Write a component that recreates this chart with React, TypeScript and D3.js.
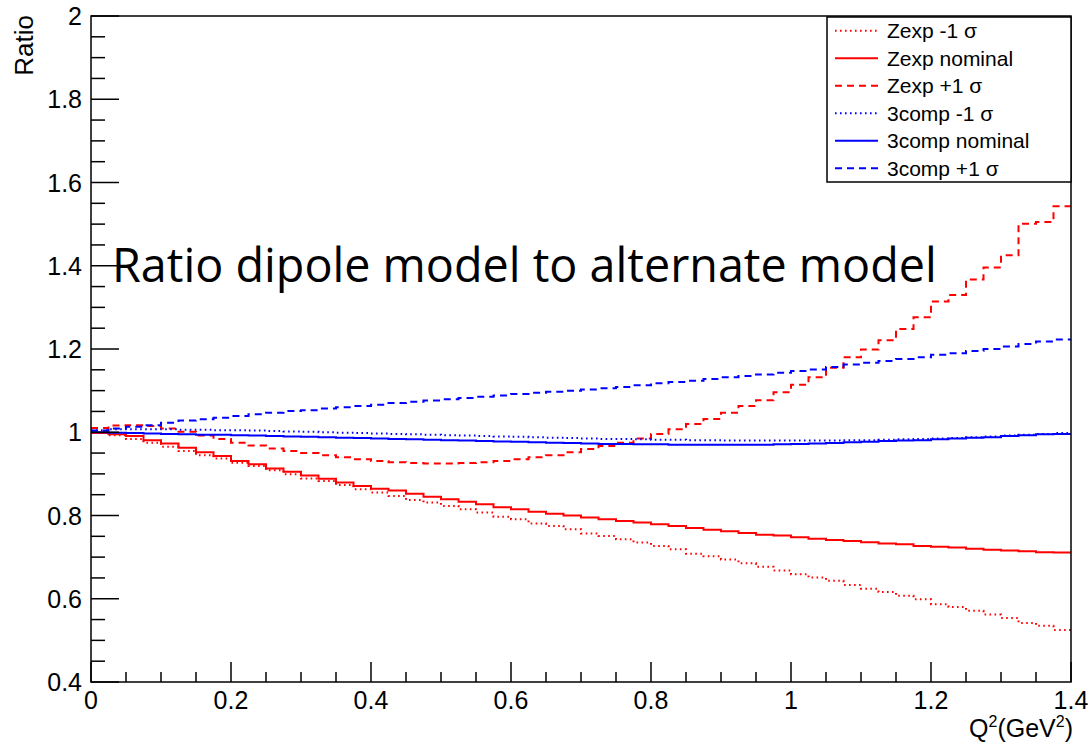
import React, { useLayoutEffect, useRef, useState } from 'react';
import * as d3 from 'd3';

// Ratio histograms: 56 bins of width 0.025 GeV^2 from 0 to 1.4
const BIN_WIDTH = 0.025;

const zexpMinus = [
  0.998, 0.993, 0.984, 0.975, 0.965, 0.955, 0.945, 0.937, 0.927, 0.919,
  0.909, 0.899, 0.889, 0.883, 0.873, 0.863, 0.855, 0.847, 0.837, 0.831,
  0.823, 0.815, 0.807, 0.797, 0.791, 0.781, 0.775, 0.767, 0.757, 0.751,
  0.743, 0.735, 0.727, 0.719, 0.708, 0.702, 0.694, 0.685, 0.677, 0.668,
  0.659, 0.651, 0.643, 0.633, 0.624, 0.616, 0.607, 0.599, 0.587, 0.580,
  0.571, 0.562, 0.554, 0.542, 0.535, 0.525,
];

const zexpNominal = [
  0.998, 0.995, 0.991, 0.981, 0.973, 0.963, 0.952, 0.943, 0.931, 0.923,
  0.913, 0.905, 0.896, 0.888, 0.879, 0.871, 0.864, 0.860, 0.852, 0.845,
  0.839, 0.833, 0.827, 0.820, 0.815, 0.809, 0.804, 0.800, 0.795, 0.791,
  0.787, 0.783, 0.779, 0.775, 0.770, 0.766, 0.762, 0.758, 0.754, 0.752,
  0.748, 0.744, 0.741, 0.739, 0.736, 0.733, 0.731, 0.727, 0.725, 0.723,
  0.720, 0.718, 0.716, 0.714, 0.712, 0.711,
];

const zexpPlus = [
  1.010, 1.016, 1.017, 1.015, 1.009, 1.001, 0.992, 0.984, 0.975, 0.968,
  0.961, 0.955, 0.950, 0.945, 0.940, 0.935, 0.931, 0.928, 0.926, 0.925,
  0.925, 0.926, 0.928, 0.931, 0.935, 0.940, 0.945, 0.952, 0.960, 0.967,
  0.975, 0.985, 0.996, 1.007, 1.020, 1.032, 1.047, 1.063, 1.077, 1.096,
  1.114, 1.132, 1.155, 1.180, 1.199, 1.221, 1.248, 1.276, 1.314, 1.330,
  1.367, 1.396, 1.425, 1.501, 1.505, 1.543,
];

const compMinus = [
  1.005, 1.007, 1.007, 1.007, 1.007, 1.006, 1.006, 1.005, 1.005, 1.004,
  1.003, 1.002, 1.001, 1.000, 0.999, 0.998, 0.997, 0.996, 0.995, 0.994,
  0.993, 0.992, 0.991, 0.990, 0.989, 0.988, 0.987, 0.986, 0.985, 0.984,
  0.984, 0.983, 0.982, 0.982, 0.981, 0.981, 0.980, 0.980, 0.980, 0.980,
  0.980, 0.980, 0.980, 0.981, 0.981, 0.982, 0.983, 0.984, 0.985, 0.986,
  0.988, 0.990, 0.992, 0.994, 0.996, 0.998,
];

const compNominal = [
  1.000, 0.999, 0.998, 0.997, 0.996, 0.995, 0.994, 0.994, 0.993, 0.992,
  0.991, 0.990, 0.989, 0.988, 0.987, 0.986, 0.985, 0.984, 0.983, 0.982,
  0.981, 0.980, 0.979, 0.978, 0.977, 0.976, 0.975, 0.974, 0.973, 0.972,
  0.972, 0.971, 0.971, 0.970, 0.970, 0.970, 0.970, 0.970, 0.970, 0.971,
  0.972, 0.973, 0.974, 0.976, 0.977, 0.979, 0.980, 0.981, 0.983, 0.985,
  0.987, 0.988, 0.991, 0.993, 0.995, 0.996,
];

const compPlus = [
  1.004, 1.009, 1.013, 1.017, 1.023, 1.028, 1.031, 1.035, 1.039, 1.043,
  1.047, 1.051, 1.053, 1.057, 1.060, 1.063, 1.066, 1.070, 1.073, 1.076,
  1.079, 1.082, 1.085, 1.088, 1.092, 1.095, 1.097, 1.100, 1.103, 1.106,
  1.109, 1.113, 1.118, 1.121, 1.124, 1.128, 1.132, 1.135, 1.139, 1.143,
  1.147, 1.151, 1.157, 1.163, 1.167, 1.171, 1.176, 1.180, 1.186, 1.190,
  1.195, 1.200, 1.206, 1.212, 1.218, 1.223,
];

const xTickValues = [0, 0.2, 0.4, 0.6, 0.8, 1.0, 1.2, 1.4];
const xTickLabels = ['0', '0.2', '0.4', '0.6', '0.8', '1', '1.2', '1.4'];
const yTickValues = [0.4, 0.6, 0.8, 1.0, 1.2, 1.4, 1.6, 1.8, 2.0];
const yTickLabels = ['0.4', '0.6', '0.8', '1', '1.2', '1.4', '1.6', '1.8', '2'];

const RED = '#ff0000';
const BLUE = '#0000ff';
const DOTTED = '1.6,3.4';
const DASHED = '7,5';

const series = [
  { label: 'Zexp -1 σ', values: zexpMinus, color: RED, dash: DOTTED },
  { label: 'Zexp nominal', values: zexpNominal, color: RED, dash: undefined },
  { label: 'Zexp +1 σ', values: zexpPlus, color: RED, dash: DASHED },
  { label: '3comp -1 σ', values: compMinus, color: BLUE, dash: DOTTED },
  { label: '3comp nominal', values: compNominal, color: BLUE, dash: undefined },
  { label: '3comp +1 σ', values: compPlus, color: BLUE, dash: DASHED },
];

const W = 1089;
const H = 745;
const LEFT = 91;
const RIGHT = 1071;
const TOP = 16;
const BOTTOM = 682;

const AXIS_FONT = '"Liberation Sans", Arial, sans-serif';

export default function App() {
  const x = d3.scaleLinear().domain([0, 1.4]).range([LEFT, RIGHT]);
  const y = d3.scaleLinear().domain([0.4, 2.0]).range([BOTTOM, TOP]);

  const line = d3
    .line<[number, number]>()
    .x((d) => x(d[0]))
    .y((d) => y(d[1]))
    .curve(d3.curveStepAfter);

  const histPath = (values: number[]) => {
    const pts: [number, number][] = values.map((v, i) => [i * BIN_WIDTH, v]);
    pts.push([values.length * BIN_WIDTH, values[values.length - 1]]);
    return line(pts) || '';
  };

  const xMinor = d3.range(0, 1.4001, 0.05).filter((v) => Math.abs(v / 0.2 - Math.round(v / 0.2)) > 1e-6);
  const yMinor = d3.range(0.4, 2.0001, 0.05).filter((v) => Math.abs(v / 0.2 - Math.round(v / 0.2)) > 1e-6);

  // overlay caption, sized to span its target width
  const titleRef = useRef<SVGTextElement>(null);
  const [titleSize, setTitleSize] = useState(43);
  const TITLE_WIDTH = 825;
  useLayoutEffect(() => {
    const el = titleRef.current;
    if (!el) return;
    const w = el.getComputedTextLength();
    if (w > 0) {
      const next = (titleSize * TITLE_WIDTH) / w;
      if (Math.abs(next - titleSize) > 0.2) setTitleSize(next);
    }
  }, [titleSize]);

  const legX = 827;
  const legY = 17;
  const legW = 244;
  const legH = 165;
  const rowH = legH / series.length;

  return (
    <svg
      width={W}
      height={H}
      style={{ position: 'absolute', left: 0, top: 0, background: '#fff' }}
      fontFamily={AXIS_FONT}
    >
      <rect x={0} y={0} width={W} height={H} fill="#fff" />

      {/* histograms */}
      <g fill="none" strokeWidth={2}>
        {series.map((s) => (
          <path
            key={s.label}
            d={histPath(s.values)}
            stroke={s.color}
            strokeDasharray={s.dash}
          />
        ))}
      </g>

      {/* frame */}
      <rect
        x={LEFT}
        y={TOP}
        width={RIGHT - LEFT}
        height={BOTTOM - TOP}
        fill="none"
        stroke="#000"
        strokeWidth={1.5}
      />

      {/* y axis ticks */}
      <g stroke="#000" strokeWidth={1.5}>
        {yTickValues.map((v) => (
          <line key={'ym' + v} x1={LEFT} x2={LEFT + 28} y1={y(v)} y2={y(v)} />
        ))}
        {yMinor.map((v) => (
          <line key={'yn' + v} x1={LEFT} x2={LEFT + 14} y1={y(v)} y2={y(v)} />
        ))}
        {xTickValues.map((v) => (
          <line key={'xm' + v} x1={x(v)} x2={x(v)} y1={BOTTOM} y2={BOTTOM - 20} />
        ))}
        {xMinor.map((v) => (
          <line key={'xn' + v} x1={x(v)} x2={x(v)} y1={BOTTOM} y2={BOTTOM - 10} />
        ))}
      </g>

      {/* tick labels */}
      <g fontSize={25} fill="#000">
        {yTickValues.map((v, i) => (
          <text key={'yl' + v} x={82} y={y(v)} dy="0.36em" textAnchor="end">
            {yTickLabels[i]}
          </text>
        ))}
        {xTickValues.map((v, i) => (
          <text key={'xl' + v} x={x(v)} y={BOTTOM + 27} textAnchor="middle">
            {xTickLabels[i]}
          </text>
        ))}
      </g>

      {/* axis titles */}
      <text
        transform="translate(33,15) rotate(-90)"
        textAnchor="end"
        fontSize={26}
        fill="#000"
      >
        Ratio
      </text>
      <text x={1073} y={737} textAnchor="end" fontSize={25} fill="#000">
        Q<tspan fontSize={16} dy={-10}>2</tspan>
        <tspan dy={10}>(GeV</tspan>
        <tspan fontSize={16} dy={-10}>2</tspan>
        <tspan dy={10}>)</tspan>
      </text>

      {/* legend */}
      <rect x={legX} y={legY} width={legW} height={legH} fill="#fff" stroke="#000" strokeWidth={1.5} />
      {series.map((s, i) => {
        const cy = legY + rowH * (i + 0.5);
        return (
          <g key={'leg' + s.label}>
            <line
              x1={835}
              x2={878}
              y1={cy}
              y2={cy}
              stroke={s.color}
              strokeWidth={2}
              strokeDasharray={s.dash}
            />
            <text x={887} y={cy} dy="0.36em" fontSize={21} fill="#000">
              {s.label}
            </text>
          </g>
        );
      })}

      {/* caption */}
      <text
        ref={titleRef}
        x={112}
        y={282}
        fontSize={titleSize}
        fontFamily='"Open Sans", "Noto Sans", sans-serif'
        fill="#000"
      >
        Ratio dipole model to alternate model
      </text>
    </svg>
  );
}
